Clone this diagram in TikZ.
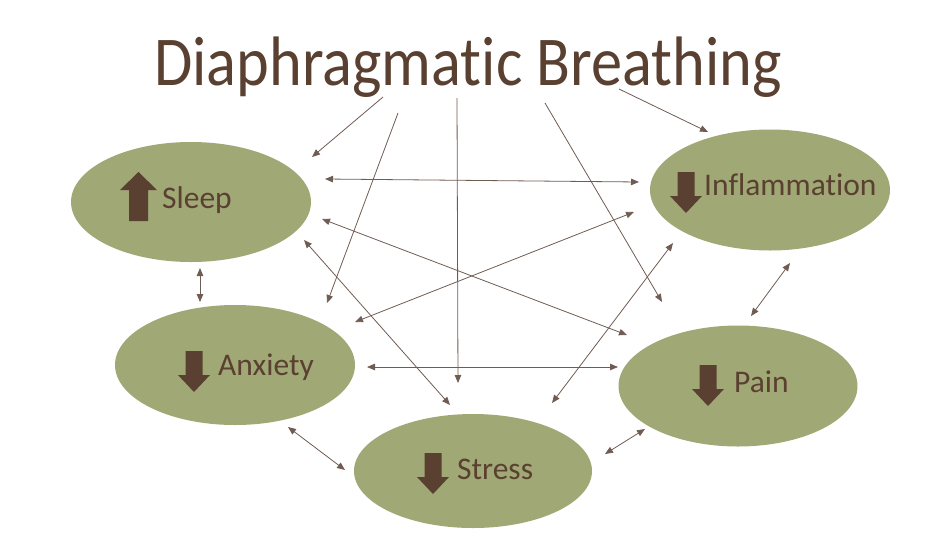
\documentclass[tikz,border=0pt]{standalone}
\usepackage{fontspec}
\setmainfont[Ligatures=NoCommon]{Carlito}
\usetikzlibrary{shapes.geometric,arrows.meta}
\definecolor{olive}{RGB}{160,168,117}
\definecolor{darkbrown}{RGB}{90,64,48}
\definecolor{linebrown}{RGB}{112,92,82}
\tikzset{
  blob/.style={ellipse,fill=olive,draw=none,inner sep=0pt},
  lbl/.style={anchor=base west,inner sep=0pt,text=darkbrown,font=\fontsize{31.5}{36}\selectfont},
  conn/.style={draw=linebrown,line width=0.8pt,-{Triangle[length=8pt,width=6.5pt]}},
  dconn/.style={draw=linebrown,line width=0.8pt,{Triangle[length=8pt,width=6.5pt]}-{Triangle[length=8pt,width=6.5pt]}},
  dnarr/.pic={\fill[darkbrown] (-8.5,0) -- (8.5,0) -- (8.5,24) -- (16,24) -- (0,41) -- (-16,24) -- (-8.5,24) -- cycle;},
  uparr/.pic={\fill[darkbrown] (0,0) -- (18.5,18) -- (9.5,18) -- (9.5,49) -- (-9.5,49) -- (-9.5,18) -- (-18.5,18) -- cycle;}
}
\begin{document}
\begin{tikzpicture}[x=1pt,y=-1pt]
\useasboundingbox (0,0) rectangle (932,536);
% title
\node[anchor=base,inner sep=0pt,text=darkbrown,font=\fontsize{70}{80}\selectfont] (title) at (468,85) {\scalebox{0.89}[1]{Diaphragmatic Breathing}};
% ellipses
\node[blob,minimum width=240pt,minimum height=120pt] (sleep) at (191,202) {};
\node[blob,minimum width=240pt,minimum height=121pt] (infl) at (770,190) {};
\node[blob,minimum width=240pt,minimum height=120pt] (anx) at (235,365) {};
\node[blob,minimum width=239pt,minimum height=121pt] (pain) at (738,386) {};
\node[blob,minimum width=238pt,minimum height=114pt] (stress) at (473,471) {};
% block arrows
\pic at (138.5,172) {uparr};
\pic at (686,172) {dnarr};
\pic at (194,351) {dnarr};
\pic at (708,365) {dnarr};
\pic at (433,453) {dnarr};
% labels
\node[lbl] (tsleep) at (162,208) {Sleep};
\node[lbl] (tinfl) at (704,195) {Inflammation};
\node[lbl] (tanx) at (218,375) {Anxiety};
\node[lbl] (tpain) at (734,392) {Pain};
\node[lbl] (tstress) at (457,479) {Stress};
% connector end points
\coordinate (t1) at (383,97);   \coordinate (s1) at (312,157);
\coordinate (t2) at (398,113);  \coordinate (a1) at (327,303);
\coordinate (t3) at (457,98);   \coordinate (st1) at (458,383);
\coordinate (t4) at (545,103);  \coordinate (p1) at (662,302);
\coordinate (t5) at (619,89);   \coordinate (i1) at (708,132);
\coordinate (s2) at (325,179);  \coordinate (i2) at (639,182);
\coordinate (s3) at (322,219);  \coordinate (p2) at (627,335);
\coordinate (s4) at (304,240);  \coordinate (st2) at (450,405);
\coordinate (s5) at (200,268);  \coordinate (a2) at (200,302);
\coordinate (a3) at (355,322);  \coordinate (i3) at (634,212);
\coordinate (a4) at (367,367);  \coordinate (p3) at (618,367);
\coordinate (a5) at (288,427);  \coordinate (st3) at (345,470);
\coordinate (st4) at (552,403); \coordinate (i4) at (673,243);
\coordinate (st5) at (605,454); \coordinate (p4) at (645,429);
\coordinate (i5) at (790,263);  \coordinate (p5) at (751,316);
% title arrows
\draw[conn] (t1) -- (s1);
\draw[conn] (t2) -- (a1);
\draw[conn] (t3) -- (st1);
\draw[conn] (t4) -- (p1);
\draw[conn] (t5) -- (i1);
% mutual arrows
\draw[dconn] (s2) -- (i2);
\draw[dconn] (s3) -- (p2);
\draw[dconn] (s4) -- (st2);
\draw[dconn] (s5) -- (a2);
\draw[dconn] (a3) -- (i3);
\draw[dconn] (a4) -- (p3);
\draw[dconn] (a5) -- (st3);
\draw[dconn] (st4) -- (i4);
\draw[dconn] (st5) -- (p4);
\draw[dconn] (i5) -- (p5);
\end{tikzpicture}
\end{document}
